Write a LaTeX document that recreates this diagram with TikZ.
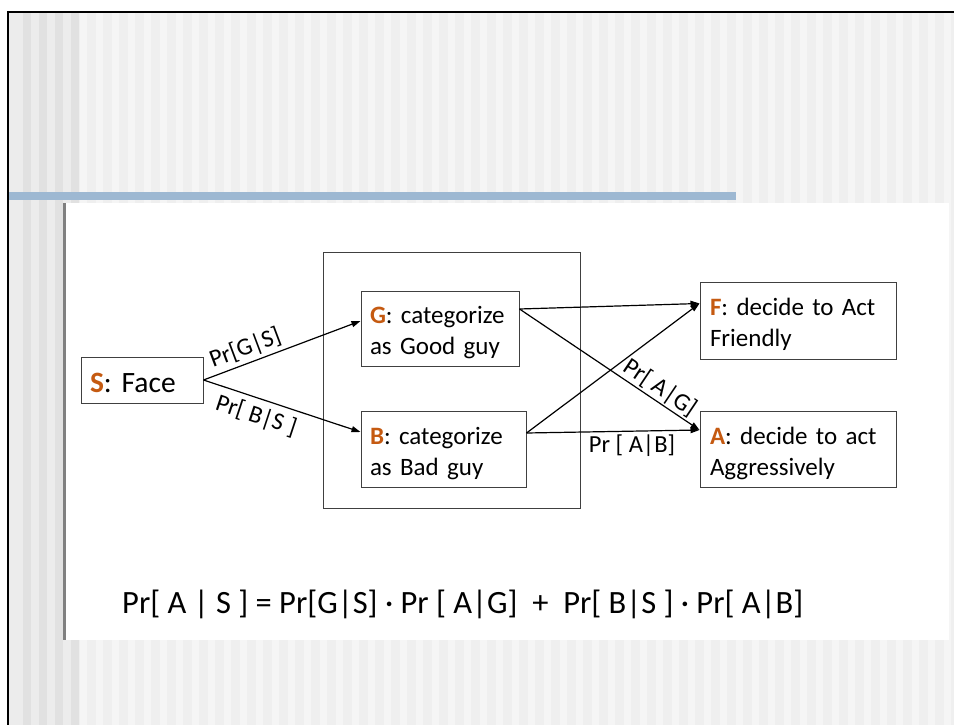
\documentclass[tikz,border=0pt]{standalone}
\usepackage{fontspec}
\setmainfont{Carlito}
\newfontfamily\boxfont{Carlito}[WordSpace=0.85]
\usetikzlibrary{arrows.meta, positioning}
\definecolor{tagorange}{RGB}{197,90,17}
\definecolor{stripedark}{RGB}{239,239,239}
\definecolor{stripelight}{RGB}{245,245,245}
\definecolor{leftdark}{RGB}{225,225,225}
\definecolor{leftlight}{RGB}{236,236,236}
\definecolor{titlebar}{RGB}{157,184,210}
\definecolor{boxline}{RGB}{64,64,64}
\newcommand{\tagletter}[1]{\textbf{\textcolor{tagorange}{#1}}}

\tikzset{
  stagebox/.style={draw=boxline, line width=1pt, align=left, inner xsep=9pt,
                   inner ysep=0pt, font=\boxfont\fontsize{25}{31}\selectfont,
                   execute at begin node={\rule{0pt}{26pt}}},
  probarrow/.style={line width=1.2pt, -{Triangle[length=9pt,width=6pt]}},
  problabel/.style={font=\fontsize{24.5}{28}\selectfont, inner sep=3.5pt}
}

\begin{document}
\begin{tikzpicture}[x=1pt, y=-1pt]
  \useasboundingbox (0,0) rectangle (954,725);
  % slide background
  \fill[white] (0,0) rectangle (954,725);
  \fill[stripedark] (8,12) rectangle (954,725);
  \foreach \x in {80,96,...,944}
    \fill[stripelight] (\x,12) rectangle ++(7,713);
  \fill[leftlight] (8,12) rectangle (79,725);
  \foreach \x in {23,39,55,71}
    \fill[leftdark] (\x,12) rectangle ++(8,713);
  \draw[line width=2.5pt] (7,12) -- (954,12);
  \draw[line width=2.5pt] (8,11) -- (8,725);
  \fill[titlebar] (9,192) rectangle (736,200);
  \fill[white] (66,203) rectangle (949,640);
  \fill[gray] (63,203) rectangle (66,640);

  % diagram
  \node[draw=boxline, line width=1pt, minimum width=257pt, minimum height=256pt]
    (group) at (451.5,380) {};
  \node[stagebox, font=\boxfont\fontsize{29.5}{34}\selectfont, text width=104pt,
        minimum height=46pt] (face) at (142,380) {\tagletter{S}: Face};
  \node[stagebox, text width=140pt, minimum height=75pt] (good) at (440,328.5)
    {\tagletter{G}: categorize\\as Good guy};
  \node[stagebox, text width=147pt, minimum height=76pt] (bad) at (443.5,449)
    {\tagletter{B}: categorize\\as Bad guy};
  \node[stagebox, text width=176pt, inner xsep=10pt, minimum height=77pt]
    (friendly) at (798,320.5) {\tagletter{F}: decide to Act\\Friendly};
  \node[stagebox, text width=176pt, inner xsep=10pt, minimum height=76pt]
    (aggr) at (798,449) {\tagletter{A}: decide to act\\Aggressively};

  \draw[probarrow] (face.east) -- node[problabel, pos=0.3, above, sloped]
    {Pr[G|S]} ([yshift=7.5pt]good.west);
  \draw[probarrow] (face.east) -- node[problabel, pos=0.37, below, sloped,
    inner sep=6pt] {Pr[ B|S ]} ([yshift=17pt]bad.west);
  \draw[probarrow] ([yshift=19.5pt]good.east) -- ([yshift=17pt]friendly.west);
  \draw[probarrow] ([yshift=19.5pt]good.east) -- node[problabel, pos=0.74, above,
    sloped, inner sep=1pt] {Pr[ A|G]} ([yshift=19pt]aggr.west);
  \draw[probarrow] ([yshift=16pt]bad.east) -- ([yshift=17pt]friendly.west);
  \draw[probarrow] ([yshift=16pt]bad.east) -- node[problabel, pos=0.61, below]
    {Pr [ A|B]} ([yshift=19pt]aggr.west);

  \node[anchor=base west, inner sep=0pt, font=\fontsize{32.5}{38}\selectfont]
    (total) at (122,613)
    {Pr[ A | S ] = Pr[G|S] · Pr [ A|G]~~+~~Pr[ B|S ] · Pr[ A|B]};
\end{tikzpicture}
\end{document}
